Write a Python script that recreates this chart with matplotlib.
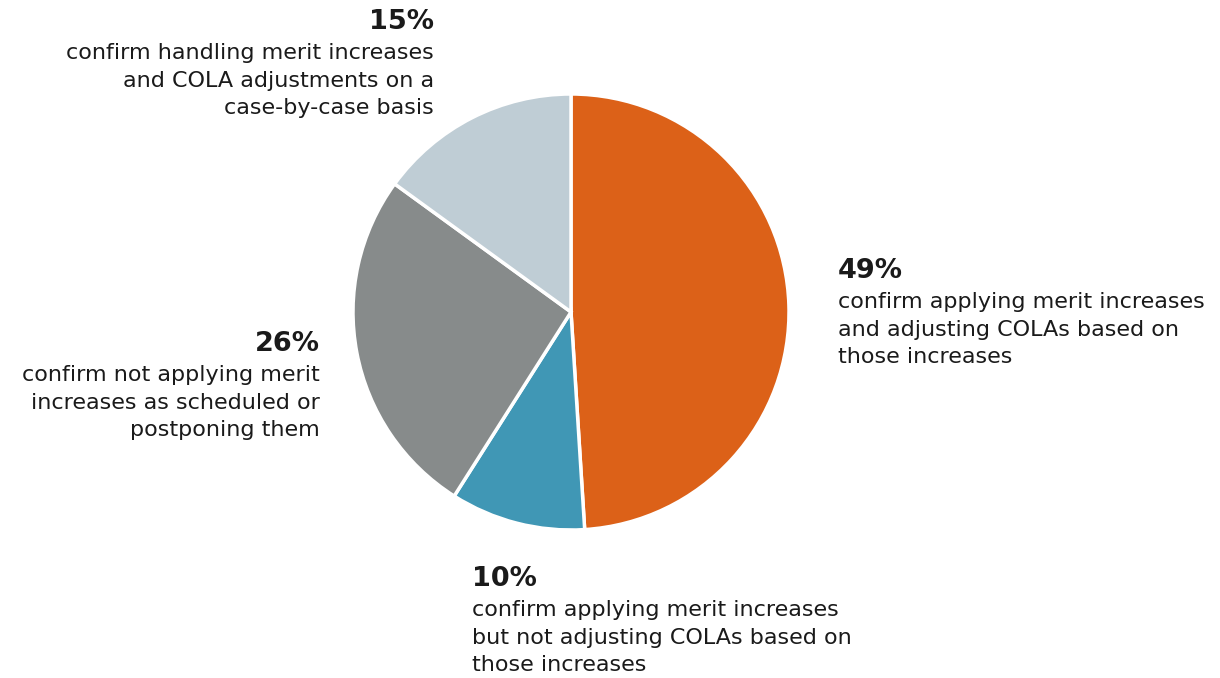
import matplotlib.pyplot as plt

shares = [49, 10, 26, 15]
colors = ['#DC6118', '#4097B5', '#878B8B', '#BFCDD5']
pct_labels = ['49%', '10%', '26%', '15%']
descriptions = [
    'confirm applying merit increases\nand adjusting COLAs based on\nthose increases',
    'confirm applying merit increases\nbut not adjusting COLAs based on\nthose increases',
    'confirm not applying merit\nincreases as scheduled or\npostponing them',
    'confirm handling merit increases\nand COLA adjustments on a\ncase-by-case basis',
]

W, H = 1220, 678
fig = plt.figure(figsize=(W / 100, H / 100), dpi=100)

# pie centred at (571, 312) px with radius 218 px
cx, cy, r = 571, 312, 218
ax = fig.add_axes([(cx - r) / W, (H - cy - r) / H, 2 * r / W, 2 * r / H])
ax.pie(shares, colors=colors, startangle=90, counterclock=False,
       wedgeprops=dict(edgecolor='white', linewidth=2.5), radius=1)
ax.set_xlim(-1.0, 1.0)
ax.set_ylim(-1.0, 1.0)
ax.set_aspect('equal')
ax.axis('off')

# label anchors in pixels: (x, y of percent top, alignment)
anchors = [
    (838, 258, 'left'),
    (472, 566, 'left'),
    (320, 331, 'right'),
    (434, 9, 'right'),
]

txt_color = '#1a1a1a'
for (x, y, ha), pct, desc in zip(anchors, pct_labels, descriptions):
    fig.text(x / W, 1 - y / H, pct, ha=ha, va='top', fontsize=19.5,
             fontweight='bold', color=txt_color)
    fig.text(x / W, 1 - (y + 34) / H, desc, ha=ha, va='top', fontsize=16,
             color=txt_color, linespacing=1.48, multialignment=ha)

fig.savefig('out.png', dpi=100, facecolor='white')
